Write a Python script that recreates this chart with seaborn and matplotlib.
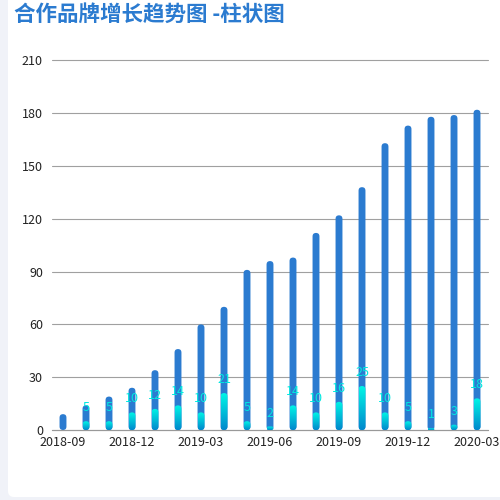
import numpy as np
import pandas as pd
import matplotlib
matplotlib.use('Agg')
import matplotlib.pyplot as plt
import seaborn as sns
from matplotlib.patches import FancyBboxPatch

# 数据
months = ['2018-09', '2018-10', '2018-11', '2018-12', '2019-01', '2019-02',
          '2019-03', '2019-04', '2019-05', '2019-06', '2019-07', '2019-08',
          '2019-09', '2019-10', '2019-11', '2019-12', '2020-01', '2020-02',
          '2020-03']
totals = [9, 14, 19, 24, 34, 46, 60, 70, 91, 96, 98, 112, 122, 138, 163,
          173, 178, 179, 182]
increase = [0, 5, 5, 10, 12, 14, 10, 21, 5, 2, 14, 10, 16, 25, 10, 5, 1, 3, 18]
y_ticks = [0, 30, 60, 90, 120, 150, 180, 210]
title = '合作品牌增长趋势图 -柱状图'

blue = '#2b7bd0'
cyan_top = '#00f5e6'
cyan_bottom = '#0088cc'
label_color = '#00e8e0'

sns.set_theme(style='white')
plt.rcParams['font.family'] = ['Noto Sans CJK SC', 'DejaVu Sans']

fig = plt.figure(figsize=(5, 5), dpi=100)
fig.patch.set_facecolor('#f0f2f8')
card = FancyBboxPatch((8 / 500, 3 / 500), 1.2, 1.2,
                      boxstyle='round,pad=0,rounding_size=0.012',
                      transform=fig.transFigure, facecolor='white',
                      edgecolor='none', zorder=-10)
fig.patches.append(card)

fig.text(14 / 500, 1 - 14 / 500, title, fontsize=15.5, fontweight='bold',
         color=blue, ha='left', va='center')

ax = fig.add_axes([52 / 500, 1 - 430 / 500, 436 / 500, 369.5 / 500])
ax.set_facecolor('none')

df = pd.DataFrame({'month': months, 'total': totals, 'increase': increase})
sns.barplot(data=df, x='month', y='total', color=blue, width=0.3,
            saturation=1, ax=ax, zorder=2)
n_total = len(ax.patches)
sns.barplot(data=df, x='month', y='increase', color=cyan_top, width=0.3,
            saturation=1, ax=ax, zorder=3)

xlim = (-0.478, len(months) - 1 + 0.478)
ylim = (0, 210)
ax.set_xlim(*xlim)
ax.set_ylim(*ylim)

# 圆角柱子
px_x = 436 / (xlim[1] - xlim[0])
px_y = 369.5 / (ylim[1] - ylim[0])
aspect = px_x / px_y

bars = list(ax.patches)
for k, p in enumerate(bars):
    x, y = p.get_x(), p.get_y()
    w, h = p.get_width(), p.get_height()
    p.remove()
    if h <= 0:
        continue
    r = min(w / 2, h / aspect / 2)
    rp = FancyBboxPatch((x, y), w, h,
                        boxstyle=f'round,pad=0,rounding_size={r}',
                        mutation_aspect=aspect, edgecolor='none')
    if k < n_total:
        rp.set_facecolor(blue)
        rp.set_zorder(2)
        ax.add_patch(rp)
    else:
        rp.set_facecolor('none')
        rp.set_zorder(3)
        ax.add_patch(rp)
        grad = np.linspace(0, 1, 100).reshape(-1, 1)
        cmap = matplotlib.colors.LinearSegmentedColormap.from_list(
            'g', [cyan_bottom, cyan_top])
        im = ax.imshow(grad, cmap=cmap, extent=[x, x + w, y, y + h],
                       origin='lower', aspect='auto', zorder=3)
        im.set_clip_path(rp)

for i, v in enumerate(increase):
    if v > 0:
        ax.annotate(str(v), (i, v), xytext=(0, 5), textcoords='offset points',
                    ha='center', va='bottom', fontsize=9, color=label_color,
                    zorder=4)

ax.set_xlim(*xlim)
ax.set_ylim(*ylim)
ax.set_yticks(y_ticks)
ax.set_yticklabels([str(t) for t in y_ticks])
tick_pos = list(range(0, len(months), 3))
ax.set_xticks(tick_pos)
ax.set_xticklabels([months[i] for i in tick_pos])
ax.set_xlabel('')
ax.set_ylabel('')
ax.tick_params(axis='both', length=0, labelsize=9, colors='#222222')
ax.tick_params(axis='x', pad=4.5)
ax.tick_params(axis='y', pad=6.5)
ax.yaxis.grid(True, color='#a0a0a0', linewidth=0.8, zorder=0)
for gl in ax.get_ygridlines():
    gl.set_clip_on(False)
ax.xaxis.grid(False)
ax.set_axisbelow(True)
for s in ['top', 'right', 'left']:
    ax.spines[s].set_visible(False)
ax.spines['bottom'].set_color('#999999')
ax.spines['bottom'].set_linewidth(0.8)

fig.savefig('out.png', dpi=100, facecolor=fig.get_facecolor())
